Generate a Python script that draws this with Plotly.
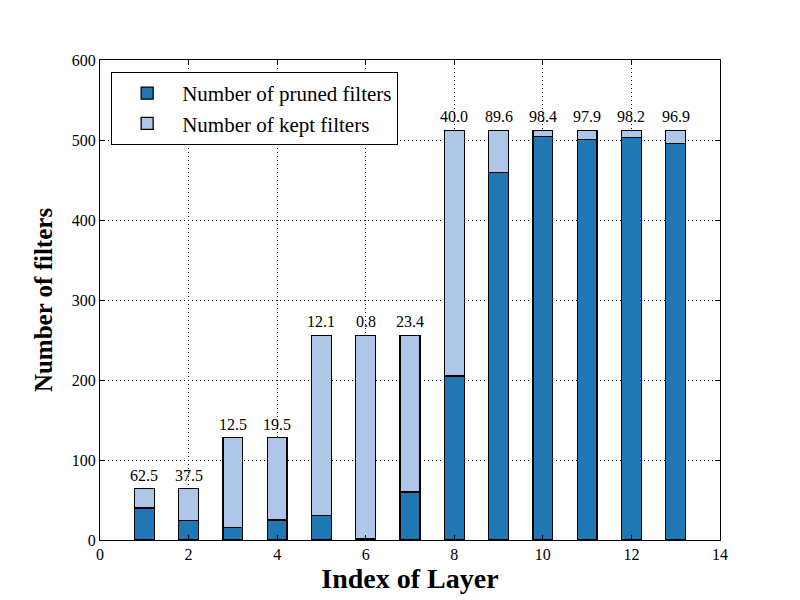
import plotly.graph_objects as go

# VGG-style layer pruning data
layers = list(range(1, 14))
total_filters = [64, 64, 128, 128, 256, 256, 256, 512, 512, 512, 512, 512, 512]
pruned_filters = [40, 24, 16, 25, 31, 2, 60, 205, 459, 504, 501, 503, 496]
pruned_pct = ["62.5", "37.5", "12.5", "19.5", "12.1", "0.8", "23.4",
              "40.0", "89.6", "98.4", "97.9", "98.2", "96.9"]
kept_filters = [t - p for t, p in zip(total_filters, pruned_filters)]

FONT = "Liberation Serif, Times New Roman, serif"
BAR_W = 0.45

fig = go.Figure()
fig.add_trace(go.Bar(
    x=layers, y=pruned_filters, width=BAR_W,
    name="Number of pruned filters",
    marker={"color": "#1f77b4", "line": {"color": "black", "width": 1.3}},
))
fig.add_trace(go.Bar(
    x=layers, y=kept_filters, width=BAR_W,
    name="Number of kept filters",
    marker={"color": "#aec7e8", "line": {"color": "black", "width": 1.3}},
))

# percentage labels above each bar
for x, y, txt in zip(layers, total_filters, pruned_pct):
    fig.add_annotation(
        x=x, y=y, text=txt, showarrow=False,
        yanchor="bottom", yshift=3,
        font={"family": FONT, "size": 16, "color": "black"},
    )

axis_common = dict(
    showline=True, linecolor="black", linewidth=1, mirror="ticks",
    ticks="inside", ticklen=5, tickcolor="black",
    showgrid=True, gridcolor="black", griddash="1px,3px", gridwidth=0.8,
    zeroline=False, layer="above traces",
    tickfont={"family": FONT, "size": 16, "color": "black"},
)

fig.update_xaxes(
    range=[0, 14], dtick=2, tick0=0,
    title={"text": "<b>Index of Layer</b>", "font": {"family": FONT, "size": 28, "color": "black"},
           "standoff": 6},
    **axis_common,
)
fig.update_yaxes(
    range=[0, 600], dtick=100,
    title={"text": "<b>Number of filters</b>", "font": {"family": FONT, "size": 25, "color": "black"},
           "standoff": 12},
    **axis_common,
)

fig.update_layout(
    width=800, height=600,
    barmode="stack",
    plot_bgcolor="white", paper_bgcolor="white",
    margin={"l": 92, "r": 88, "t": 52, "b": 68},
    legend={
        "x": 0.018, "y": 0.975, "xanchor": "left", "yanchor": "top",
        "bgcolor": "white", "bordercolor": "black", "borderwidth": 1,
        "font": {"family": FONT, "size": 21, "color": "black"},
        "traceorder": "normal", "itemwidth": 60,
    },
)

fig.write_html("out.html")
